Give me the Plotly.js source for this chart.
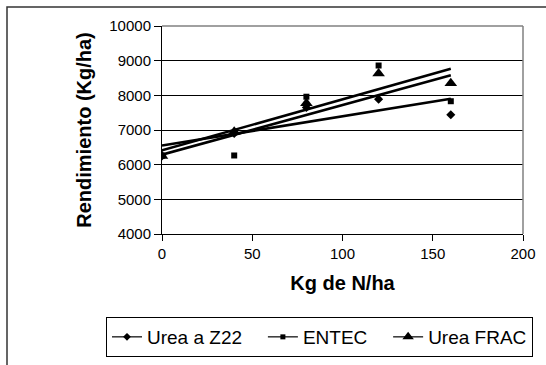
<!DOCTYPE html>
<html>
<head>
<meta charset="utf-8">
<script src="https://cdn.plot.ly/plotly-3.0.1.min.js"></script>
<style>
  html, body { margin: 0; padding: 0; background: #fff; }
  #chart { width: 546px; height: 365px; }
</style>
</head>
<body>
<div id="chart"></div>
<script>
// Nitrogen dose (kg N/ha) and grain yield (kg/ha) per fertilizer source
const doses = [0, 40, 80, 120, 160];
const ureaZ22 = [6250, 6900, 7650, 7890, 7440];
const entec = [6260, 6265, 7960, 8860, 7830];
const ureaFrac = [6250, 6950, 7770, 8630, 8350];

const seriesNames = ['Urea a Z22', 'ENTEC', 'Urea FRAC'];
const seriesValues = [ureaZ22, entec, ureaFrac];
const seriesSymbols = ['diamond', 'square', 'triangle-up'];
const seriesSizes = [7, 6, 11];

const xTicks = [0, 50, 100, 150, 200];
const yTicks = [4000, 5000, 6000, 7000, 8000, 9000, 10000];

// Least-squares linear trend over the observed dose range
function linearTrend(xs, ys) {
  const n = xs.length;
  const mx = xs.reduce((a, b) => a + b, 0) / n;
  const my = ys.reduce((a, b) => a + b, 0) / n;
  let sxy = 0, sxx = 0;
  for (let i = 0; i < n; i++) {
    sxy += (xs[i] - mx) * (ys[i] - my);
    sxx += (xs[i] - mx) * (xs[i] - mx);
  }
  const slope = sxy / sxx;
  const icpt = my - slope * mx;
  const x0 = Math.min(...xs), x1 = Math.max(...xs);
  return { x: [x0, x1], y: [icpt + slope * x0, icpt + slope * x1] };
}

const traces = [];
seriesValues.forEach((vals, i) => {
  const t = linearTrend(doses, vals);
  traces.push({
    x: t.x, y: t.y, mode: 'lines', showlegend: false, hoverinfo: 'skip',
    line: { color: '#000', width: 2.6 }
  });
});
seriesValues.forEach((vals, i) => {
  traces.push({
    x: doses, y: vals, mode: 'markers', showlegend: false, name: seriesNames[i],
    marker: { symbol: seriesSymbols[i], size: seriesSizes[i], color: '#000' }
  });
});
// Legend keys: line with marker for each source (wider spacing between entries)
const legendPad = '\u00a0\u00a0\u00a0';
seriesNames.forEach((name, i) => {
  traces.push({
    x: [null], y: [null], mode: 'lines+markers',
    name: i < seriesNames.length - 1 ? name + legendPad : name,
    line: { color: '#000', width: 1.2 },
    marker: { symbol: seriesSymbols[i], size: seriesSizes[i] - 1, color: '#000' }
  });
});

const W = 546, H = 365;
const mL = 162, mR = 23, mT = 26, mB = 131;
const pw = W - mL - mR, ph = H - mT - mB;
const px = v => (v - mL) / pw;
const py = v => (H - mB - v) / ph;

const font = 'Liberation Sans, Arial, sans-serif';

const layout = {
  width: W, height: H,
  margin: { l: mL, r: mR, t: mT, b: mB, autoexpand: false },
  paper_bgcolor: '#fff', plot_bgcolor: '#fff',
  font: { family: font, color: '#000', size: 15 },
  showlegend: true,
  legend: {
    orientation: 'h', x: px(106), y: py(317), xanchor: 'left', yanchor: 'top',
    bordercolor: '#000', borderwidth: 1, bgcolor: '#fff',
    font: { family: font, size: 19, color: '#000' },
    tracegroupgap: 0, itemwidth: 30
  },
  xaxis: {
    range: [0, 200], tickvals: xTicks, ticktext: xTicks.map(String),
    ticks: 'outside', ticklen: 6, tickcolor: '#000', tickwidth: 1,
    showline: true, linecolor: '#000', linewidth: 1,
    showgrid: false, zeroline: false, automargin: false,
    tickfont: { family: font, size: 15, color: '#000' },
    title: { text: '<b>Kg de N/ha</b>', font: { family: font, size: 20, color: '#000' }, standoff: 14 }
  },
  yaxis: {
    range: [4000, 10000], tickvals: yTicks, ticktext: yTicks.map(String),
    ticks: 'outside', ticklen: 7, tickcolor: '#000', tickwidth: 1,
    showline: true, linecolor: '#000', linewidth: 1,
    showgrid: true, gridcolor: '#000', gridwidth: 1, zeroline: false, automargin: false,
    tickfont: { family: font, size: 15, color: '#000' },
    title: { text: '<b>Rendimiento (Kg/ha)</b>', font: { family: font, size: 20, color: '#000' }, standoff: 12 }
  },
  shapes: [
    // chart frame
    { type: 'rect', xref: 'paper', yref: 'paper', x0: px(7), y0: -2, x1: 3, y1: py(7),
      line: { color: '#333', width: 1.5 }, layer: 'below' },
    // plot area border (top and right)
    { type: 'line', xref: 'paper', yref: 'paper', x0: 0, x1: 1, y0: 1, y1: 1,
      line: { color: '#808080', width: 1.5 }, layer: 'above' },
    { type: 'line', xref: 'paper', yref: 'paper', x0: 1, x1: 1, y0: 0, y1: 1,
      line: { color: '#808080', width: 1.5 }, layer: 'above' }
  ]
};

Plotly.newPlot('chart', traces, layout, { displayModeBar: false, staticPlot: true });
</script>
</body>
</html>
